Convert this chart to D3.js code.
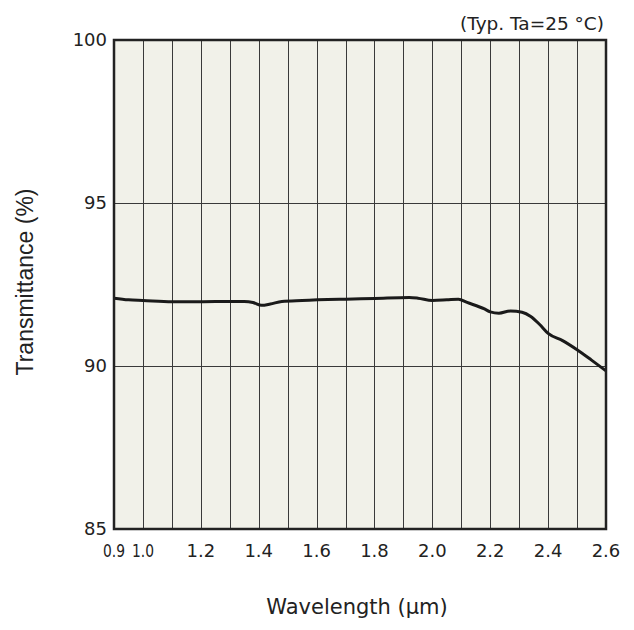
<!DOCTYPE html>
<html>
<head>
<meta charset="utf-8">
<script src="https://cdn.jsdelivr.net/npm/d3@7"></script>
<style>
  body { margin: 0; background: #fff; }
  text { fill: #222; }
</style>
</head>
<body>
<div id="chart"></div>
<script>
// data
var wavelength = [0.9, 0.95, 1.0, 1.1, 1.2, 1.3, 1.35, 1.38, 1.41, 1.44, 1.48, 1.55, 1.7, 1.8, 1.92, 1.95, 2.0, 2.05, 2.09, 2.12, 2.18, 2.2, 2.23, 2.27, 2.31, 2.34, 2.37, 2.4, 2.45, 2.5, 2.55, 2.6];
var transmittance = [92.08, 92.03, 92.01, 91.97, 91.97, 91.98, 91.98, 91.95, 91.86, 91.9, 91.98, 92.01, 92.05, 92.07, 92.1, 92.08, 92.01, 92.03, 92.05, 91.95, 91.75, 91.66, 91.62, 91.69, 91.65, 91.52, 91.28, 91.0, 90.78, 90.5, 90.18, 89.85];
var xTicks = [0.9, 1.0, 1.2, 1.4, 1.6, 1.8, 2.0, 2.2, 2.4, 2.6];
var yTicks = [85, 90, 95, 100];
var xGrid = d3.range(10, 26).map(function(d) { return d / 10; });

var width = 634, height = 630;
// plot box (note: "top" is taken by window.top, so use other names)
var plotL = 114, plotR = 606, plotT = 40, plotB = 529;
var tickFont = "DejaVu Sans, Verdana, sans-serif";

var svg = d3.select("#chart").append("svg")
  .attr("width", width)
  .attr("height", height);

var xScale = d3.scaleLinear().domain([0.9, 2.6]).range([plotL, plotR]);
var yScale = d3.scaleLinear().domain([85, 100]).range([plotB, plotT]);

// plot background
svg.append("rect")
  .attr("x", plotL).attr("y", plotT)
  .attr("width", plotR - plotL).attr("height", plotB - plotT)
  .attr("fill", "#f1f1e9");

// vertical grid
svg.append("g").selectAll("line").data(xGrid).enter().append("line")
  .attr("x1", function(d) { return Math.round(xScale(d)) + 0.5; })
  .attr("x2", function(d) { return Math.round(xScale(d)) + 0.5; })
  .attr("y1", plotT).attr("y2", plotB)
  .attr("stroke", "#3a3a3a").attr("stroke-width", 1);

// horizontal grid
svg.append("g").selectAll("line").data([90, 95]).enter().append("line")
  .attr("x1", plotL).attr("x2", plotR)
  .attr("y1", function(d) { return Math.round(yScale(d)) + 0.5; })
  .attr("y2", function(d) { return Math.round(yScale(d)) + 0.5; })
  .attr("stroke", "#3a3a3a").attr("stroke-width", 1);

// the curve
var line = d3.line()
  .x(function(d, i) { return xScale(wavelength[i]); })
  .y(function(d) { return yScale(d); })
  .curve(d3.curveMonotoneX);

svg.append("path")
  .datum(transmittance)
  .attr("d", line)
  .attr("fill", "none")
  .attr("stroke", "#1a1a1a")
  .attr("stroke-width", 3)
  .attr("stroke-linejoin", "round");

// frame
svg.append("rect")
  .attr("x", plotL).attr("y", plotT)
  .attr("width", plotR - plotL).attr("height", plotB - plotT)
  .attr("fill", "none")
  .attr("stroke", "#222")
  .attr("stroke-width", 2.5);

// y tick labels
svg.append("g").selectAll("text").data(yTicks).enter().append("text")
  .attr("x", plotL - 7)
  .attr("y", function(d) { return yScale(d); })
  .attr("dy", "0.36em")
  .attr("text-anchor", "end")
  .attr("font-family", tickFont)
  .attr("font-size", 18)
  .text(function(d) { return d; });

// x tick labels (0.9 and 1.0 are squeezed together)
svg.append("g").selectAll("text").data(xTicks).enter().append("text")
  .attr("x", function(d) { return xScale(d); })
  .attr("y", 557)
  .attr("text-anchor", "middle")
  .attr("font-family", tickFont)
  .attr("font-size", 18)
  .each(function(d) {
    if (d < 1.05) {
      d3.select(this).attr("textLength", 22).attr("lengthAdjust", "spacingAndGlyphs");
    }
  })
  .text(function(d) { return d.toFixed(1); });

// axis titles
svg.append("text")
  .attr("x", 357).attr("y", 614)
  .attr("text-anchor", "middle")
  .attr("font-family", tickFont)
  .attr("font-size", 21)
  .text("Wavelength (µm)");

svg.append("text")
  .attr("transform", "translate(33," + 282 + ")rotate(-90)")
  .attr("text-anchor", "middle")
  .attr("font-family", "Liberation Sans, Arial, sans-serif")
  .attr("font-size", 23)
  .text("Transmittance (%)");

// condition note
svg.append("text")
  .attr("x", 604).attr("y", 30)
  .attr("text-anchor", "end")
  .attr("font-family", tickFont)
  .attr("font-size", 18.5)
  .text("(Typ. Ta=25 °C)");
</script>
</body>
</html>
